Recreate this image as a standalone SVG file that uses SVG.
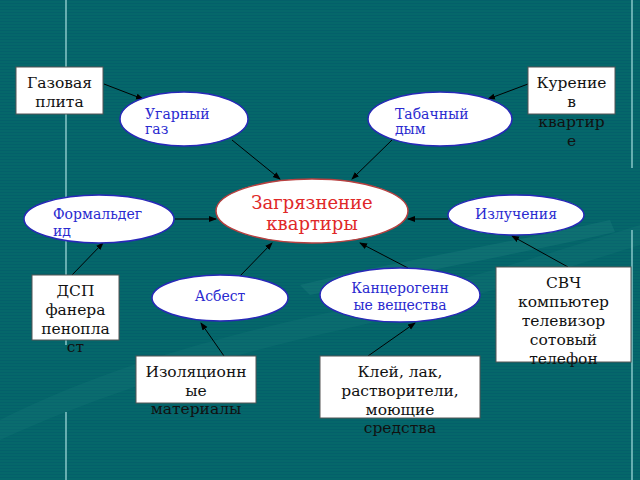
<svg xmlns="http://www.w3.org/2000/svg" width="640" height="480" viewBox="0 0 640 480">
<defs>
<pattern id="stripes" width="4" height="3" patternUnits="userSpaceOnUse">
<rect width="4" height="3" fill="#05676a"/>
<rect width="4" height="1" fill="#04606a"/>
</pattern>
<marker id="arr" markerWidth="8" markerHeight="8" refX="7" refY="4" orient="auto" markerUnits="userSpaceOnUse">
<path d="M0,1 L8,4 L0,7 Z" fill="#000"/>
</marker>
<style>
.box{fill:#fff;stroke:#555;stroke-width:1}
.ell{fill:#fff;stroke:#2828b8;stroke-width:1.5}
.main{fill:#fff;stroke:#b84040;stroke-width:1.5}
.bt{font-family:"DejaVu Serif","Liberation Serif",serif;font-size:15.5px;fill:#111;text-anchor:middle}
.et{font-family:"DejaVu Serif","Liberation Serif",serif;font-size:14px;fill:#2a2ad0}
.mt{font-family:"DejaVu Serif","Liberation Serif",serif;font-size:18px;fill:#e02828;text-anchor:middle}
.vl{stroke:#a8e0e0;stroke-width:1.2}
.c{stroke:#000;stroke-width:1;fill:none;marker-end:url(#arr)}
</style>
</defs>
<rect width="640" height="480" fill="url(#stripes)"/>
<path d="M0,420 C120,360 250,330 340,310 C450,285 560,250 640,225 L640,245 C560,270 450,305 340,330 C250,350 120,385 0,440 Z" fill="#2a8a88" opacity="0.15"/>
<path d="M300,285 C400,260 500,245 610,220 L615,232 C500,258 400,275 310,295 Z" fill="#3a9a98" opacity="0.18"/>
<line class="vl" x1="66" y1="0" x2="66" y2="345"/>
<line class="vl" x1="66" y1="412" x2="66" y2="480"/>
<line class="vl" x1="632" y1="0" x2="632" y2="168"/>
<line class="vl" x1="632" y1="230" x2="632" y2="480"/>
<g id="connectors">
<line class="c" x1="104" y1="84" x2="143" y2="99"/>
<line class="c" x1="528" y1="84" x2="488" y2="99"/>
<line class="c" x1="232" y1="140" x2="280" y2="179"/>
<line class="c" x1="392" y1="140" x2="352" y2="179"/>
<line class="c" x1="175" y1="219" x2="216" y2="219"/>
<line class="c" x1="448" y1="219" x2="408" y2="219"/>
<line class="c" x1="72" y1="275" x2="103" y2="243"/>
<line class="c" x1="240" y1="276" x2="272" y2="243"/>
<line class="c" x1="408" y1="268" x2="360" y2="243"/>
<line class="c" x1="568" y1="267" x2="512" y2="236"/>
<line class="c" x1="224" y1="356" x2="201" y2="323"/>
<line class="c" x1="368" y1="356" x2="415" y2="323"/>
</g>
<g id="gas">
<rect class="box" x="16" y="67" width="87" height="47"/>
<text class="bt" x="59.5" y="88">Газовая</text>
<text class="bt" x="59.5" y="107">плита</text>
</g>
<g id="smoking">
<rect class="box" x="528" y="67" width="87" height="47"/>
<text class="bt" x="571.5" y="88">Курение</text>
<text class="bt" x="571.5" y="107">в</text>
<text class="bt" x="571.5" y="127">квартир</text>
<text class="bt" x="571.5" y="146">е</text>
</g>
<g id="co">
<ellipse class="ell" cx="184" cy="119" rx="64" ry="27"/>
<text class="et" x="145" y="119">Угарный</text>
<text class="et" x="145" y="134">газ</text>
</g>
<g id="tobacco">
<ellipse class="ell" cx="440" cy="119" rx="72" ry="27"/>
<text class="et" x="395" y="119">Табачный</text>
<text class="et" x="395" y="134">дым</text>
</g>
<g id="main">
<ellipse class="main" cx="312" cy="211" rx="96" ry="32"/>
<text class="mt" x="312" y="209">Загрязнение</text>
<text class="mt" x="312" y="230">квартиры</text>
</g>
<g id="formaldehyde">
<ellipse class="ell" cx="99" cy="219" rx="75" ry="24"/>
<text class="et" x="53" y="219">Формальдег</text>
<text class="et" x="53" y="236">ид</text>
</g>
<g id="radiation">
<ellipse class="ell" cx="516" cy="215" rx="68" ry="20"/>
<text class="et" x="516" y="219" text-anchor="middle">Излучения</text>
</g>
<g id="dsp">
<rect class="box" x="32" y="275" width="87" height="65"/>
<text class="bt" x="75.5" y="296">ДСП</text>
<text class="bt" x="75.5" y="315">фанера</text>
<text class="bt" x="75.5" y="334">пенопла</text>
<text class="bt" x="75.5" y="352">ст</text>
</g>
<g id="asbestos">
<ellipse class="ell" cx="220" cy="298" rx="68" ry="23"/>
<text class="et" x="220" y="301" text-anchor="middle">Асбест</text>
</g>
<g id="carcinogens">
<ellipse class="ell" cx="400" cy="295" rx="80" ry="27"/>
<text class="et" x="400" y="293" text-anchor="middle">Канцерогенн</text>
<text class="et" x="400" y="310" text-anchor="middle">ые вещества</text>
</g>
<g id="microwave">
<rect class="box" x="496" y="267" width="135" height="95"/>
<text class="bt" x="563.5" y="288">СВЧ</text>
<text class="bt" x="563.5" y="307">компьютер</text>
<text class="bt" x="563.5" y="326">телевизор</text>
<text class="bt" x="563.5" y="345">сотовый</text>
<text class="bt" x="563.5" y="364">телефон</text>
</g>
<g id="insulation">
<rect class="box" x="136" y="356" width="120" height="47"/>
<text class="bt" x="196" y="377">Изоляционн</text>
<text class="bt" x="196" y="396">ые</text>
<text class="bt" x="196" y="414">материалы</text>
</g>
<g id="glue">
<rect class="box" x="320" y="356" width="160" height="62"/>
<text class="bt" x="400" y="377">Клей, лак,</text>
<text class="bt" x="400" y="396">растворители,</text>
<text class="bt" x="400" y="415">моющие</text>
<text class="bt" x="400" y="433">средства</text>
</g>
</svg>
